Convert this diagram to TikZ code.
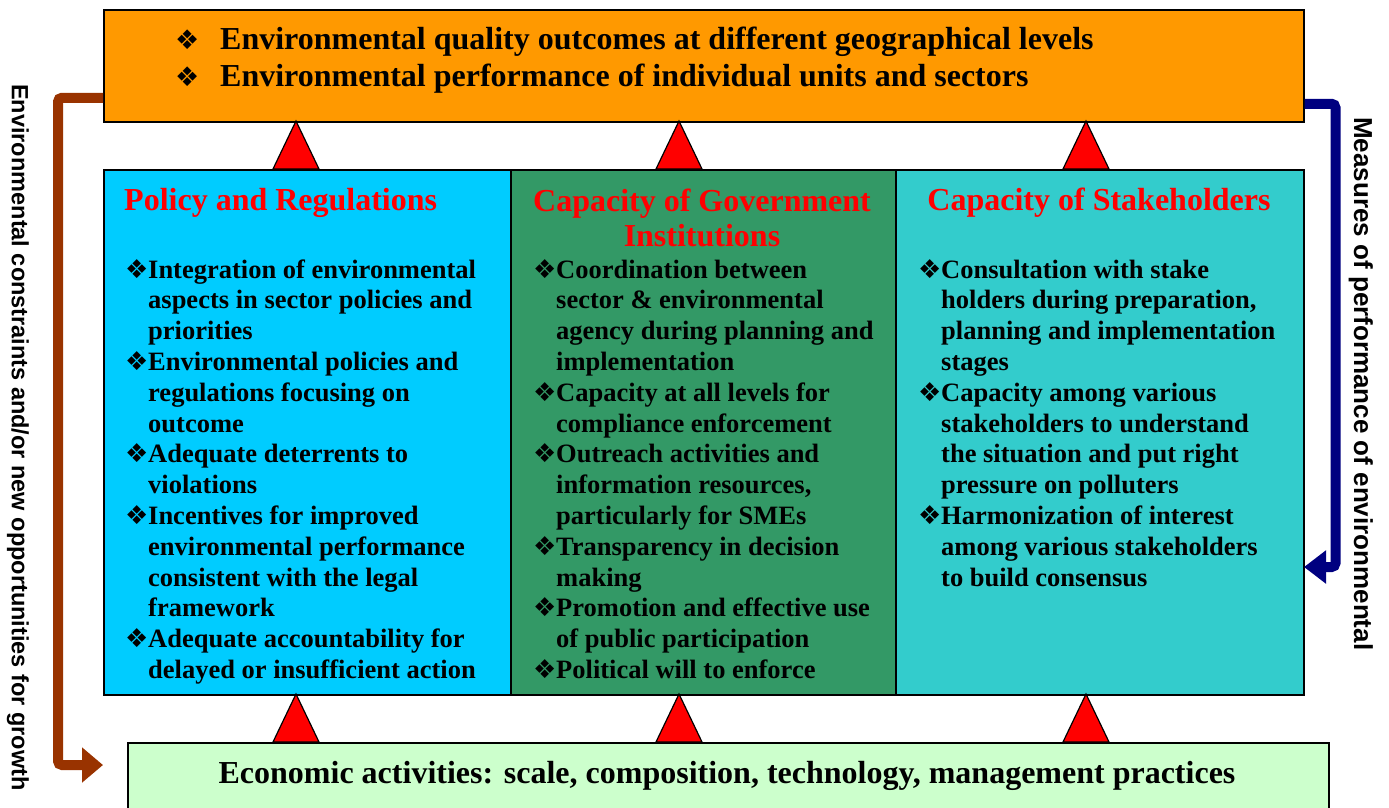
\documentclass[tikz,border=0pt]{standalone}
\usepackage{fontspec}
\setmainfont{Liberation Serif}
\newfontfamily\sidefont{Liberation Sans}
\newfontfamily\dingfont{DejaVu Sans}
\usetikzlibrary{arrows.meta}
\definecolor{outcomeorange}{HTML}{FF9900}
\definecolor{policyblue}{HTML}{00CCFF}
\definecolor{govgreen}{HTML}{339966}
\definecolor{staketeal}{HTML}{33CCCC}
\definecolor{econgreen}{HTML}{CCFFCC}
\definecolor{constraintbrown}{HTML}{993300}
\definecolor{measurenavy}{HTML}{000080}
\tikzset{panel/.style={draw,line width=1.5pt,inner sep=0,anchor=north west},
    tri/.style={draw,line width=1.2pt,fill=red,line join=miter},
    heading/.style={text=red,font=\fontsize{32}{35}\selectfont\bfseries,inner sep=0},
    itemlist/.style={align=left,anchor=north west,inner sep=0,font=\fontsize{26.5}{30.8}\selectfont\bfseries},
    sidelabel/.style={rotate=-90,anchor=base west,inner sep=0},
    feedback/.style={line width=10pt,rounded corners=4pt}
}
\newcommand{\bul}{\makebox[23pt][l]{\dingfont\fontsize{26}{26}\selectfont ❖}}
\newcommand{\bigbul}{\makebox[45pt][l]{\dingfont\fontsize{27}{27}\selectfont ❖}}
\newcommand{\ind}{\hspace*{23pt}}
\begin{document}
\begin{tikzpicture}[x=1pt,y=-1pt]
\useasboundingbox (0,0) rectangle (1389,807);
\clip (0,0) rectangle (1389,807);

% boxes
\node (outcomes) [panel,fill=outcomeorange,minimum width=1200pt,minimum height=112pt] at (103,9) {};
\node (policy) [panel,fill=policyblue,minimum width=407pt,minimum height=525pt] at (103,169) {};
\node (govt) [panel,fill=govgreen,minimum width=385pt,minimum height=525pt] at (510,169) {};
\node (stake) [panel,fill=staketeal,minimum width=408pt,minimum height=525pt] at (895,169) {};
\node (econ) [panel,fill=econgreen,minimum width=1201pt,minimum height=80pt] at (127,742) {};

% triangles between the levels
\foreach \x in {296,679,1086}
{
    \draw [tri] (\x-23,169) -- (\x,121) -- (\x+23,169) -- cycle;
    \draw [tri] (\x-23,742) -- (\x,694) -- (\x+23,742) -- cycle;
}

% feedback arrows
\coordinate (growthtip) at (103,765);
\coordinate (measuretip) at (1304,567);
\draw [feedback,constraintbrown,-{Triangle[length=21pt,width=34pt]}] ([yshift=-32pt]outcomes.west) -- ++(-45,0) |- (growthtip);
\draw [feedback,measurenavy,-{Triangle[length=22pt,width=32pt]}] ([yshift=-38pt]outcomes.east) -- ++(31,0) |- (measuretip);

% texts
\node (outcometext) [itemlist,font=\fontsize{32}{37}\selectfont\bfseries] at (175,27)
    {\bigbul Environmental quality outcomes at different geographical levels\\
     \bigbul Environmental performance of individual units and sectors};

\node (policyhead) [heading,anchor=base west] at (124,210) {Policy and Regulations};
\node (govthead) [heading,align=center,anchor=north] at (702,189) {Capacity of Government\\Institutions};
\node (stakehead) [heading,anchor=base] at (1099,210) {Capacity of Stakeholders};

\node (policylist) [itemlist] at (125,259)
    {\bul Integration of environmental\\
     \ind aspects in sector policies and\\
     \ind priorities\\
     \bul Environmental policies and\\
     \ind regulations focusing on\\
     \ind outcome\\
     \bul Adequate deterrents to\\
     \ind violations\\
     \bul Incentives for improved\\
     \ind environmental performance\\
     \ind consistent with the legal\\
     \ind framework\\
     \bul Adequate accountability for\\
     \ind delayed or insufficient action};

\node (govtlist) [itemlist] at (533,259)
    {\bul Coordination between\\
     \ind sector \& environmental\\
     \ind agency during planning and\\
     \ind implementation\\
     \bul Capacity at all levels for\\
     \ind compliance enforcement\\
     \bul Outreach activities and\\
     \ind information resources,\\
     \ind particularly for SMEs\\
     \bul Transparency in decision\\
     \ind making\\
     \bul Promotion and effective use\\
     \ind of public participation\\
     \bul Political will to enforce};

\node (stakelist) [itemlist] at (918,259)
    {\bul Consultation with stake\\
     \ind holders during preparation,\\
     \ind planning and implementation\\
     \ind stages\\
     \bul Capacity among various\\
     \ind stakeholders to understand\\
     \ind the situation and put right\\
     \ind pressure on polluters\\
     \bul Harmonization of interest\\
     \ind among various stakeholders\\
     \ind to build consensus};

\node (econtext) [anchor=base,inner sep=0,font=\fontsize{32}{35}\selectfont\bfseries] at (727,783)
    {Economic activities: scale, composition, technology, management practices};

\node (constraints) [sidelabel,font=\sidefont\bfseries\fontsize{23.5}{24}\selectfont] at (12,84)
    {Environmental constraints and/or new opportunities for growth};
\node (measures) [sidelabel,font=\sidefont\bfseries\fontsize{26}{26}\selectfont] at (1354,117)
    {Measures of performance of environmental};

\end{tikzpicture}
\end{document}
